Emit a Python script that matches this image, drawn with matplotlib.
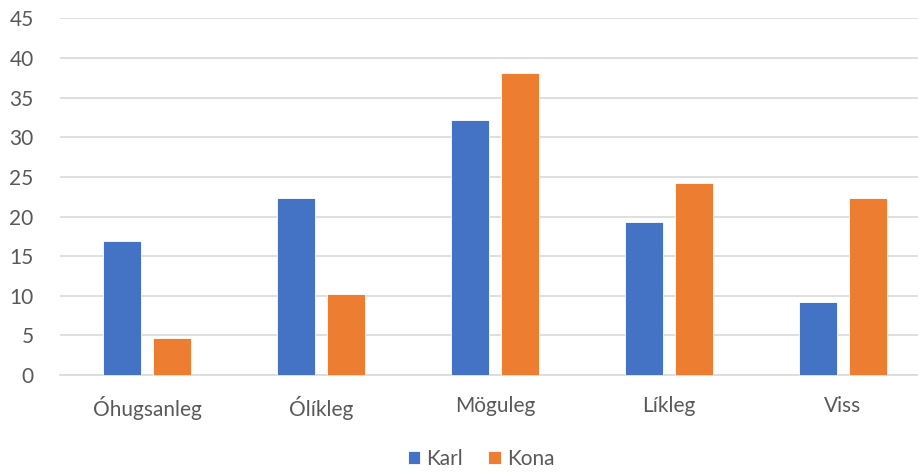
import matplotlib.pyplot as plt
import numpy as np

categories = ["Óhugsanleg", "Ólíkleg", "Möguleg", "Líkleg", "Viss"]
karl = [16.9, 22.3, 32.2, 19.3, 9.2]
kona = [4.7, 10.2, 38.1, 24.2, 22.3]
yticks = [0, 5, 10, 15, 20, 25, 30, 35, 40, 45]

plt.rcParams['font.family'] = ['Lato', 'DejaVu Sans']

fig = plt.figure(figsize=(9.18, 4.73), dpi=100)
ax = fig.add_axes([60 / 918, 98 / 473, 870 / 918, 356.5 / 473])

x = np.arange(len(categories))
w = 0.218
off = 0.144
ax.bar(x - off, karl, w, color="#4472C4", edgecolor="white", linewidth=0.6, label="Karl", zorder=3)
ax.bar(x + off, kona, w, color="#ED7D31", edgecolor="white", linewidth=0.6, label="Kona", zorder=3)

ax.set_xlim(-0.5, len(categories) - 0.5)
ax.set_ylim(0, 45)
ax.set_yticks(yticks)
ax.yaxis.grid(True, color="#D9D9D9", linewidth=1.2, zorder=0)
ax.set_axisbelow(True)

for s in ["top", "right", "left"]:
    ax.spines[s].set_visible(False)
ax.spines["bottom"].set_color("#D9D9D9")
ax.spines["bottom"].set_linewidth(1.2)

ax.set_xticks(x)
ax.set_xticklabels(categories)
ax.tick_params(axis="both", length=0, labelsize=15, colors="#595959")
ax.tick_params(axis="y", pad=19)
ax.tick_params(axis="x", pad=15)

fig.legend(loc="center", bbox_to_anchor=(481 / 918, 14 / 473), ncol=2, frameon=False,
           fontsize=15, labelcolor="#595959", handlelength=0.6, handleheight=0.6,
           handletextpad=0.3, columnspacing=1.2)

fig.savefig("out.png", dpi=100)
